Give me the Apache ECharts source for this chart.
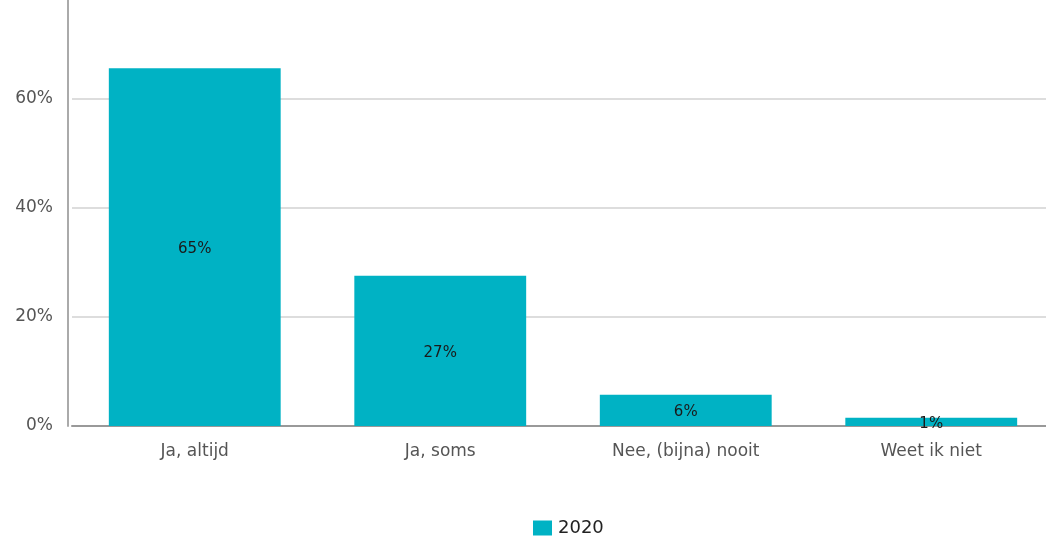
<!DOCTYPE html>
<html><head><meta charset="utf-8">
<script src="https://cdn.jsdelivr.net/npm/echarts@6/dist/echarts.min.js"></script>
<style>html,body{margin:0;padding:0;background:#fff;overflow:hidden}#c{width:1054px;height:538px}</style>
</head><body><div id="c"></div>
<script>
const categories = ["Ja, altijd", "Ja, soms", "Nee, (bijna) nooit", "Weet ik niet"];
const values2020 = [65.5, 27.5, 5.7, 1.5];
const valueLabels = ["65%", "27%", "6%", "1%"];
const seriesName = "2020";

const chart = echarts.init(document.getElementById('c'));
chart.setOption({
  animation: false,
  textStyle: {fontFamily: "DejaVu Sans"},
  grid: {left: 72, right: 0, top: 0, bottom: 112, containLabel: false},
  legend: {
    top: 514, left: 528, itemWidth: 19, itemHeight: 15, itemGap: 6,
    icon: 'rect',
    textStyle: {fontSize: 18, color: '#222', fontFamily: "DejaVu Sans", padding: [0, 0, 0, 1]},
    data: [seriesName]
  },
  xAxis: {
    type: 'category', data: categories,
    axisLine: {lineStyle: {color: '#999', width: 2}},
    axisTick: {show: false},
    axisLabel: {color: '#555', fontSize: 17, margin: 17}
  },
  yAxis: {
    type: 'value', min: 0, max: 78, interval: 20, offset: 4,
    axisLine: {show: true, lineStyle: {color: '#aaa', width: 2}},
    axisTick: {show: false},
    splitLine: {showMaxLine: false, lineStyle: {color: '#ddd', width: 2}},
    axisLabel: {color: '#555', fontSize: 17, margin: 15, showMaxLabel: false,
      formatter: v => (v % 20 === 0 ? v + '%' : '')}
  },
  series: [{
    name: seriesName, type: 'bar', data: values2020, barWidth: '70%',
    itemStyle: {color: '#00B2C4'},
    label: {show: true, position: 'inside', offset: [0, 2], color: '#1a1a1a', fontSize: 15,
      formatter: p => valueLabels[p.dataIndex]}
  }]
});
</script></body></html>
